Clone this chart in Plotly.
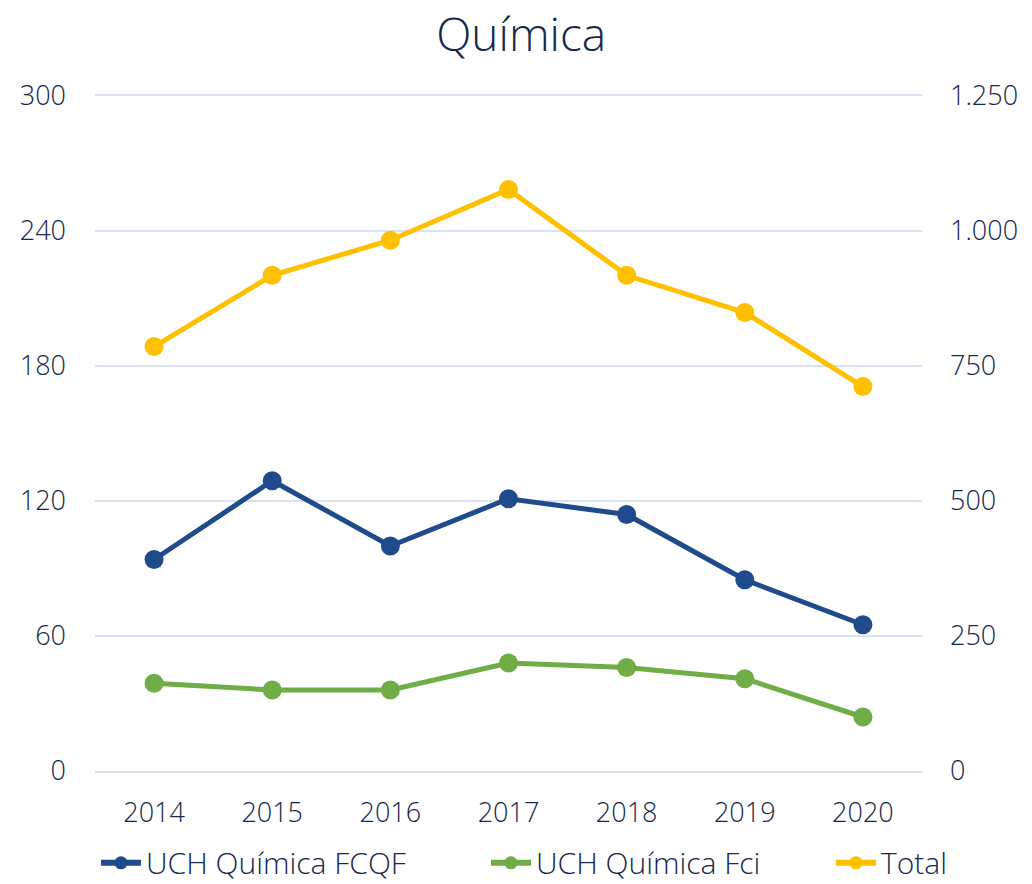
import plotly.graph_objects as go

years = ["2014", "2015", "2016", "2017", "2018", "2019", "2020"]
fcqf = [94, 129, 100, 121, 114, 85, 65]
fci = [39, 36, 36, 48, 46, 41, 24]
total = [786, 918, 983, 1077, 918, 849, 712]

left_ticks = [0, 60, 120, 180, 240, 300]
right_ticks = [0, 250, 500, 750, 1000, 1250]
right_labels = ["0", "250", "500", "750", "1.000", "1.250"]

names = ["UCH Química FCQF", "UCH Química Fci", "Total"]
colors = ["#1F4A8C", "#70AD47", "#FFC000"]

TEXT = "#14284B"
FONT = "Open Sans"
GRID = "#D9E2F3"

fig = go.Figure()
series = [(fcqf, "y"), (fci, "y"), (total, "y2")]
for (vals, ax), name, col in zip(series, names, colors):
    fig.add_trace(go.Scatter(x=years, y=vals, name=name, mode="lines+markers", yaxis=ax, showlegend=False,
                             line=dict(color=col, width=5), marker=dict(size=19, color=col)))
# legend-only entries with smaller symbols, each in its own legend for spacing
legend_ids = ["legend", "legend2", "legend3"]
for name, col, lg in zip(names, colors, legend_ids):
    fig.add_trace(go.Scatter(x=[None], y=[None], name=name, mode="lines+markers", legend=lg,
                             line=dict(color=col, width=6), marker=dict(size=13, color=col)))

def leg(xpx):
    return dict(orientation="h", x=xpx / 1032, xanchor="left", xref="container", y=0.024, yref="container",
                yanchor="middle", font=dict(size=30, weight=300, family=FONT, color=TEXT), itemwidth=40,
                bgcolor="rgba(0,0,0,0)")

fig.update_layout(
    width=1032, height=884,
    paper_bgcolor="white", plot_bgcolor="white",
    margin=dict(l=95, r=110, t=96, b=113, autoexpand=False),
    font=dict(family=FONT, color=TEXT, size=27, weight=300),
    title=dict(text="Química", x=0.505, xanchor="center", y=0.961, yanchor="middle",
               font=dict(size=46, family=FONT, color=TEXT, weight=300)),
    xaxis=dict(type="category", range=[-0.5, 6.5], showgrid=False, zeroline=False,
               showline=True, mirror=True, linecolor=GRID, linewidth=2,
               ticks="", ticklabelstandoff=17, tickfont=dict(size=27, weight=300)),
    yaxis=dict(range=[0, 300], tickvals=left_ticks, showgrid=True, gridcolor=GRID, gridwidth=2,
               zeroline=False, showline=False, ticks="", ticklabelstandoff=28,
               tickfont=dict(size=27, weight=300)),
    yaxis2=dict(range=[0, 1250], tickvals=right_ticks, ticktext=right_labels, overlaying="y", side="right",
                showgrid=False, zeroline=False, showline=False, ticks="", ticklabelstandoff=27,
                tickfont=dict(size=27, weight=300)),
    legend=leg(96),
    legend2=leg(486),
    legend3=leg(831),
)

fig.write_html("out.html", config={"displayModeBar": False},
               post_script="document.body.style.margin='0';document.body.style.overflow='hidden';")
